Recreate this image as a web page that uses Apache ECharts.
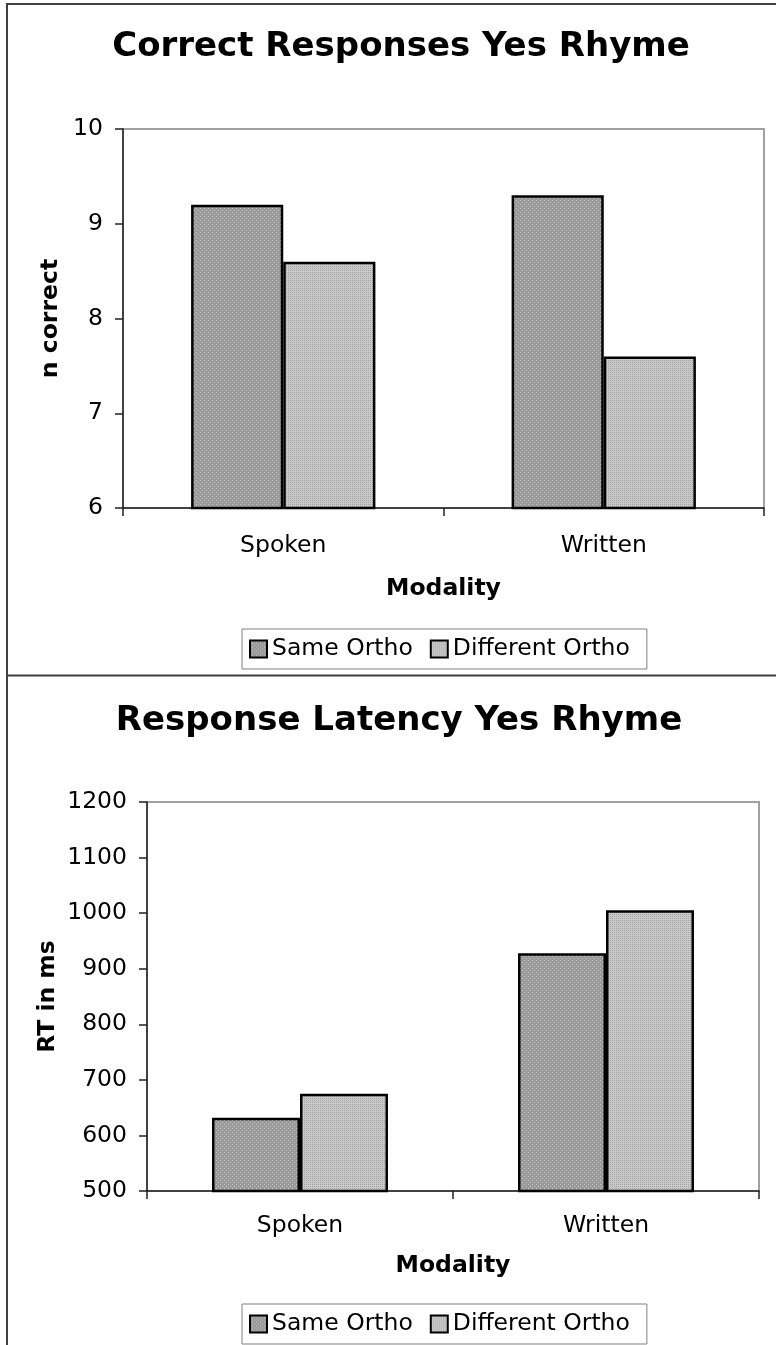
<!DOCTYPE html>
<html>
<head>
<meta charset="utf-8">
<script src="https://cdn.jsdelivr.net/npm/echarts@6/dist/echarts.min.js"></script>
<style>
  html, body { margin: 0; padding: 0; background: #fff; }
  #chart { width: 776px; height: 1345px; }
</style>
</head>
<body>
<div id="chart"></div>
<script>
var modalities = ['Spoken', 'Written'];
var seriesNames = ['Same Ortho', 'Different Ortho'];

// chart 1: correct responses
var correctSame = [9.2, 9.3];
var correctDiff = [8.6, 7.6];
var correctTicks = [6, 7, 8, 9, 10];

// chart 2: response latency
var rtSame = [632, 928];
var rtDiff = [675, 1005];
var rtTicks = [500, 600, 700, 800, 900, 1000, 1100, 1200];

var font = 'DejaVu Sans';

function makePattern(base, dot, size, dots) {
  var c = document.createElement('canvas');
  c.width = size;
  c.height = size;
  var ctx = c.getContext('2d');
  ctx.fillStyle = base;
  ctx.fillRect(0, 0, size, size);
  ctx.fillStyle = dot;
  dots.forEach(function (d) { ctx.fillRect(d[0], d[1], 1, 1); });
  return { image: c, repeat: 'repeat' };
}

var sameFill = makePattern('#9a9a9a', '#c4c4c4', 4, [[0, 0], [2, 2]]);
var diffFill = makePattern('#cacaca', '#a2a2a2', 2, [[0, 0]]);

var myChart = echarts.init(document.getElementById('chart'), null, { renderer: 'canvas' });

var barStyle = function (fill) {
  return { color: fill, borderColor: '#000', borderWidth: 2.5 };
};

var legendBase = {
  left: 242,
  orient: 'horizontal',
  icon: 'rect',
  itemWidth: 17,
  itemHeight: 17,
  itemGap: 17,
  borderColor: '#808080',
  borderWidth: 1,
  backgroundColor: '#fff',
  padding: [8, 17, 8, 7],
  textStyle: { fontFamily: font, fontSize: 23.5, color: '#000' },
  itemStyle: { borderColor: '#000', borderWidth: 2 },
  data: seriesNames
};

function valueAxis(grid, ticks, nameGap) {
  return {
    type: 'value',
    gridIndex: grid,
    min: ticks[0],
    max: ticks[ticks.length - 1],
    interval: ticks[1] - ticks[0],
    name: grid === 0 ? 'n correct' : 'RT in ms',
    nameLocation: 'middle',
    nameGap: nameGap,
    nameMoveOverlap: false,
    nameTextStyle: { fontFamily: font, fontSize: 23.5, fontWeight: 'bold', color: '#000' },
    axisLine: { show: true, lineStyle: { color: '#222', width: 1.5 } },
    axisTick: { show: true, length: 8, lineStyle: { color: '#222', width: 1.5 } },
    axisLabel: {
      margin: 20,
      fontFamily: font,
      fontSize: 23.5,
      color: '#000',
      formatter: function (v) { return String(v); }
    },
    splitLine: { show: false }
  };
}

function categoryAxis(grid, labelMargin, nameGap) {
  return {
    type: 'category',
    gridIndex: grid,
    data: modalities,
    name: 'Modality',
    nameLocation: 'middle',
    nameGap: nameGap,
    nameTextStyle: { fontFamily: font, fontSize: 23.5, fontWeight: 'bold', color: '#000' },
    axisLine: { lineStyle: { color: '#222', width: 1.5 } },
    axisTick: { show: true, length: 8, alignWithLabel: false, lineStyle: { color: '#222', width: 1.5 } },
    axisLabel: { margin: labelMargin, fontFamily: font, fontSize: 23.5, color: '#000' }
  };
}

option = {
  backgroundColor: '#fff',
  animation: false,
  title: [
    {
      text: 'Correct Responses Yes Rhyme',
      left: 396,
      top: 25,
      textAlign: 'center',
      textStyle: { fontFamily: font, fontSize: 34, fontWeight: 'bold', color: '#000' }
    },
    {
      text: 'Response Latency Yes Rhyme',
      left: 394,
      top: 699,
      textAlign: 'center',
      textStyle: { fontFamily: font, fontSize: 34, fontWeight: 'bold', color: '#000' }
    }
  ],
  legend: [
    Object.assign({}, legendBase, { top: 629 }),
    Object.assign({}, legendBase, { top: 1304 })
  ],
  grid: [
    { left: 123, top: 129, width: 641, height: 379, show: true, borderColor: '#a0a0a0', borderWidth: 2, backgroundColor: '#fff' },
    { left: 147, top: 802, width: 612, height: 389, show: true, borderColor: '#a0a0a0', borderWidth: 2, backgroundColor: '#fff' }
  ],
  xAxis: [
    categoryAxis(0, 26, 69),
    categoryAxis(1, 23, 63)
  ],
  yAxis: [
    valueAxis(0, correctTicks, 60),
    valueAxis(1, rtTicks, 87)
  ],
  graphic: [
    { type: 'line', shape: { x1: 6, y1: 4, x2: 776, y2: 4 }, style: { stroke: '#404040', lineWidth: 2 } },
    { type: 'line', shape: { x1: 7, y1: 3, x2: 7, y2: 1345 }, style: { stroke: '#404040', lineWidth: 2 } },
    { type: 'line', shape: { x1: 6, y1: 675.5, x2: 776, y2: 675.5 }, style: { stroke: '#404040', lineWidth: 2 } }
  ],
  series: [
    { name: seriesNames[0], type: 'bar', xAxisIndex: 0, yAxisIndex: 0, barGap: '0%', barCategoryGap: '42.5%', itemStyle: barStyle(sameFill), data: correctSame },
    { name: seriesNames[1], type: 'bar', xAxisIndex: 0, yAxisIndex: 0, barGap: '0%', barCategoryGap: '42.5%', itemStyle: barStyle(diffFill), data: correctDiff },
    { name: seriesNames[0], type: 'bar', xAxisIndex: 1, yAxisIndex: 1, barGap: '0%', barCategoryGap: '42.5%', itemStyle: barStyle(sameFill), data: rtSame },
    { name: seriesNames[1], type: 'bar', xAxisIndex: 1, yAxisIndex: 1, barGap: '0%', barCategoryGap: '42.5%', itemStyle: barStyle(diffFill), data: rtDiff }
  ]
};

if (option && typeof option === "object") {
  myChart.setOption(option, true);
}
</script>
</body>
</html>
